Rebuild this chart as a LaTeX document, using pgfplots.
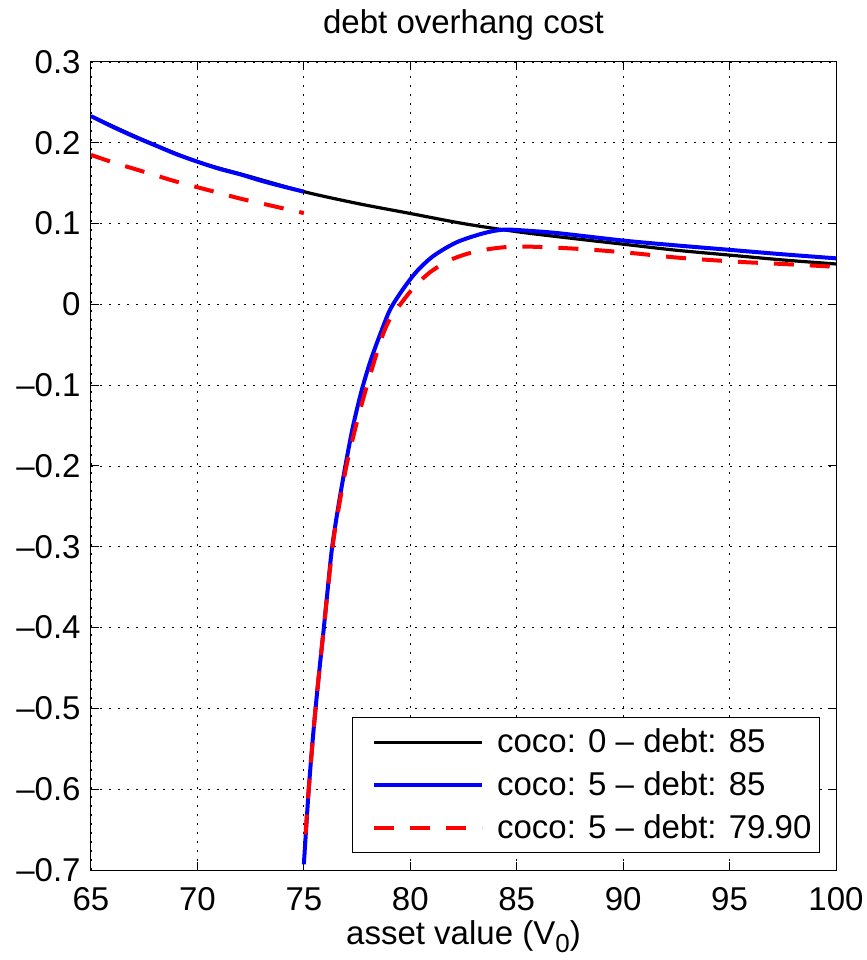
\documentclass[border=0pt]{standalone}
\usepackage{fontspec}
\setmainfont{Liberation Sans}
\usepackage{pgfplots}
\pgfplotsset{compat=1.18}

\begin{document}
\begin{tikzpicture}
\path[use as bounding box] (-45.5pt,-45pt) rectangle (388pt,435pt);
\begin{axis}[
    scale only axis,
    width=372.5pt, height=404pt,
    xmin=65, xmax=100,
    ymin=-0.7, ymax=0.3,
    xtick={65,70,75,80,85,90,95,100},
    xticklabels={65,70,75,80,85,90,95,100},
    ytick={-0.7,-0.6,-0.5,-0.4,-0.3,-0.2,-0.1,0,0.1,0.2,0.3},
    yticklabels={--0.7,--0.6,--0.5,--0.4,--0.3,--0.2,--0.1,0,0.1,0.2,0.3},
    font=\fontsize{16.5}{19}\selectfont,
    axis line style={black, line width=0.5pt},
    tick align=inside,
    major tick length=4pt,
    tick style={black, line width=0.5pt},
    grid=major,
    grid style={black, line width=0.45pt, dash pattern=on 1pt off 3.5pt},
    xticklabel style={anchor=base, yshift=-20.3pt},
    yticklabel style={anchor=east, inner sep=0pt, xshift=-5pt},
    title={debt overhang cost},
    title style={at={(0.5,1)}, anchor=base, yshift=8pt},
    xlabel={asset value (V\raisebox{-4pt}{\fontsize{13}{13}\selectfont 0})},
    xlabel style={at={(0.5,0)}, anchor=base, yshift=-37pt},
    legend style={at={(0.9785,0.021)}, anchor=south east, draw=black,
        line width=0.5pt, font=\fontsize{16.5}{19}\selectfont,
        inner xsep=3pt, inner ysep=4.5pt, row sep=6pt, column sep=5.5pt,
        nodes={inner sep=1pt}},
    legend cell align=left,
    legend image code/.code={\path (0pt,0pt); \draw[#1] (7pt,0pt) -- (61pt,0pt);},
]

% coco: 0 - debt: 85
\addplot[black, line width=1.6pt, smooth] coordinates {
    (65,0.233)(67.5,0.203)(70,0.1766)(72.5,0.158)(75,0.1395)
    (77.5,0.125)(80,0.1125)(82.5,0.100)(85,0.090)(87.5,0.082)
    (90,0.0745)(92.5,0.067)(95,0.061)(97.5,0.055)(100,0.05)
};
\addlegendentry{coco: 0 -- debt: 85}

% coco: 5 - debt: 85 (below the threshold)
\addplot[blue, line width=2pt, smooth] coordinates {
    (65,0.233)(66,0.220)(67,0.208)(68,0.197)(69,0.186)(70,0.1766)
    (71,0.168)(72,0.161)(73,0.153)(74,0.146)(75,0.1395)
};
\addlegendentry{coco: 5 -- debt: 85}

% coco: 5 - debt: 79.90 (below the threshold)
\addplot[red, line width=2pt, dash pattern=on 10pt off 8pt, smooth] coordinates {
    (65,0.185)(66,0.176)(67,0.168)(68,0.160)(69,0.152)(70,0.145)
    (71,0.138)(72,0.131)(73,0.125)(74,0.119)(75,0.113)
};
\addlegendentry{coco: 5 -- debt: 79.90}

% coco: 5 - debt: 85 (above the threshold)
\addplot[blue, line width=2pt, smooth, forget plot] coordinates {
    (75.0,-0.693)(75.1,-0.652)(75.23,-0.600)(75.38,-0.550)(75.55,-0.500)
    (75.74,-0.450)(75.94,-0.400)(76.13,-0.350)(76.33,-0.300)(76.62,-0.250)
    (76.95,-0.200)(77.3,-0.152)(77.7,-0.108)(78.13,-0.070)(78.6,-0.036)
    (79.06,-0.006)(79.69,0.020)(80.31,0.041)(81.09,0.060)(82.19,0.077)
    (83.44,0.088)(84.4,0.0925)(85.6,0.0910)(87,0.0880)(90,0.0790)
    (92.5,0.0730)(95,0.0675)(97.5,0.0620)(100,0.0570)
};

% coco: 5 - debt: 79.90 (above the threshold)
\addplot[red, line width=2pt, dash pattern=on 10pt off 8pt, smooth, forget plot] coordinates {
    (75.08,-0.656)(75.23,-0.600)(75.55,-0.500)(75.94,-0.400)(76.35,-0.300)
    (76.65,-0.250)(77.0,-0.200)(77.45,-0.150)(77.97,-0.100)(78.6,-0.046)
    (79.0,-0.020)(79.53,0.000)(80.2,0.022)(80.94,0.040)(81.8,0.054)
    (82.66,0.0625)(83.6,0.068)(84.53,0.071)(85.5,0.0715)(87,0.070)
    (88.6,0.0675)(90.5,0.0633)(92.5,0.058)(95.2,0.053)(97.5,0.050)
    (100,0.0465)
};

\end{axis}
\end{tikzpicture}
\end{document}
